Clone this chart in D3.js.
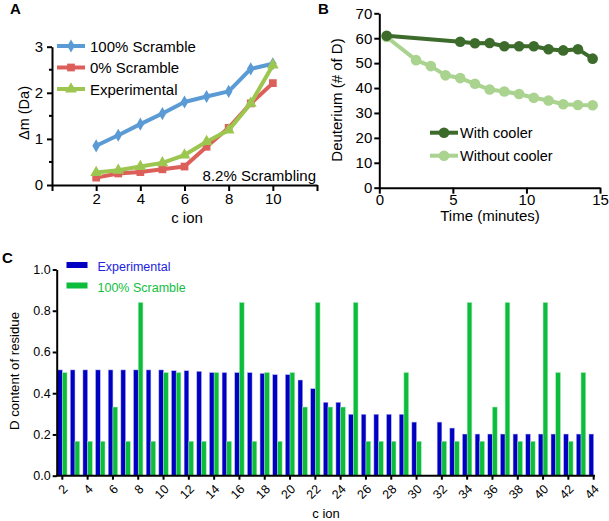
<!DOCTYPE html>
<html><head><meta charset="utf-8">
<script src="https://cdn.jsdelivr.net/npm/d3@7"></script>
<style>
body{margin:0;background:#fff}
text{font-family:"Liberation Sans",Arial,Helvetica,sans-serif;fill:#000}
</style>
</head><body><svg id="chart" width="609" height="521"></svg>
<script>
// ---------- Panel A data ----------
const ionsA = [2, 3, 4, 5, 6, 7, 8, 9, 10];
const scramble100A = [0.85, 1.08, 1.32, 1.55, 1.80, 1.92, 2.03, 2.52, 2.63];
const scramble0A   = [0.16, 0.25, 0.28, 0.34, 0.40, 0.83, 1.24, 1.77, 2.21];
const experimentalA= [0.27, 0.32, 0.40, 0.48, 0.65, 0.94, 1.19, 1.77, 2.60];
const ticksAx = [0, 2, 4, 6, 8, 10, 12];
const ticksAy = [0, 1, 2, 3];

// ---------- Panel B data ----------
const timesWith    = [0.5, 5.5, 6.5, 7.5, 8.5, 9.5, 10.5, 11.5, 12.5, 13.5, 14.5];
const withCooler   = [61, 58.6, 58.0, 58.1, 56.8, 56.8, 56.8, 55.6, 55.1, 55.6, 51.8];
const timesWithout = [0.5, 2.5, 3.5, 4.5, 5.5, 6.5, 7.5, 8.5, 9.5, 10.5, 11.5, 12.5, 13.5, 14.5];
const withoutCooler= [60.5, 51.2, 48.8, 45.1, 44.0, 41.7, 39.4, 38.6, 37.6, 36.1, 35.0, 33.5, 33.2, 33.1];
const ticksBx = [0, 5, 10, 15];
const ticksBy = [0, 10, 20, 30, 40, 50, 60, 70];

// ---------- Panel C data ----------
const ionsC = [2,3,4,5,6,7,8,9,10,11,12,13,14,15,16,17,18,19,20,21,22,23,24,25,26,27,28,29,30,31,32,33,34,35,36,37,38,39,40,41,42,43,44];
const experimentalC = [0.513,0.513,0.513,0.513,0.513,0.513,0.513,0.513,0.513,0.509,0.509,0.506,0.50,0.50,0.50,0.50,0.496,0.49,0.49,0.464,0.422,0.356,0.356,0.298,0.298,0.298,0.298,0.298,0.26,null,0.26,0.231,0.202,0.202,0.202,0.202,0.202,0.202,0.202,0.202,0.202,0.202,0.202];
const scramble100C  = [0.50,0.167,0.167,0.167,0.333,0.167,0.84,0.167,0.50,0.50,0.167,0.167,0.50,0.167,0.84,0.167,0.50,0.167,0.50,0.333,0.84,0.333,0.333,0.84,0.167,0.167,0.167,0.50,0.167,null,0.167,0.167,0.84,0.167,0.333,0.84,0.167,0.167,0.84,0.50,0.167,0.50,null];
const ticksCy = [0, 0.2, 0.4, 0.6, 0.8, 1.0];
const ticksCx = [2,4,6,8,10,12,14,16,18,20,22,24,26,28,30,32,34,36,38,40,42,44];

const svg = d3.select("#chart");

function styleAxis(g, w, fs){
  g.attr("font-family",null);
  g.select(".domain").attr("stroke","#000").attr("stroke-width",w);
  g.selectAll(".tick line").attr("stroke","#000").attr("stroke-width",w);
  g.selectAll(".tick text").attr("fill","#000").style("font-size",fs+"px");
}

// ================= Panel A =================
{
  const x = d3.scaleLinear().domain([0,12]).range([52,317]);
  const y = d3.scaleLinear().domain([0,3]).range([185,46.7]);
  const gx = svg.append("g").attr("transform","translate(0,185)")
    .call(d3.axisBottom(x).tickValues(ticksAx).tickSize(6).tickSizeOuter(0)
      .tickFormat(d => (d===0||d===12) ? "" : d));
  styleAxis(gx,2,15);
  gx.selectAll(".tick text").attr("y",8);
  const gy = svg.append("g").attr("transform","translate(52,0)")
    .call(d3.axisLeft(y).tickValues(ticksAy).tickFormat(d3.format("d")).tickSize(5).tickSizeOuter(0));
  styleAxis(gy,2,15);
  gy.selectAll(".tick text").attr("x",-9);
  // minor ticks
  svg.append("g").selectAll("line").data([0.5,1.5,2.5]).join("line")
    .attr("x1",49).attr("x2",52).attr("y1",d=>y(d)).attr("y2",d=>y(d))
    .attr("stroke","#000").attr("stroke-width",2);

  const series = [
    {name:"100% Scramble", vals:scramble100A, color:"#5b9bd5", sym:d3.symbolDiamond, size:50},
    {name:"0% Scramble",   vals:scramble0A,   color:"#dd5f5a", sym:d3.symbolSquare,  size:60},
    {name:"Experimental",  vals:experimentalA,color:"#9cc650", sym:d3.symbolTriangle,size:60}
  ];
  const line = d3.line().x((d,i)=>x(ionsA[i])).y(d=>y(d));
  series.forEach((s,k)=>{
    svg.append("path").attr("d",line(s.vals)).attr("fill","none")
      .attr("stroke",s.color).attr("stroke-width",4).attr("stroke-linejoin","round");
    svg.append("g").selectAll("path").data(s.vals).join("path")
      .attr("transform",(d,i)=>`translate(${x(ionsA[i])},${y(d)})`)
      .attr("d",d3.symbol(s.sym,s.size)).attr("fill",s.color);
    // legend
    const ly = 46 + k*21.5;
    svg.append("line").attr("x1",57).attr("x2",85).attr("y1",ly).attr("y2",ly)
      .attr("stroke",s.color).attr("stroke-width",4);
    svg.append("path").attr("transform",`translate(71,${ly})`)
      .attr("d",d3.symbol(s.sym,s.size)).attr("fill",s.color);
    svg.append("text").attr("x",90).attr("y",ly+5.5).attr("font-size",15).text(s.name);
  });
  svg.append("text").attr("x",316).attr("y",181).attr("text-anchor","end")
    .attr("font-size",15).text("8.2% Scrambling");
  svg.append("text").attr("x",187).attr("y",223).attr("text-anchor","middle")
    .attr("font-size",15).text("c ion");
  svg.append("text").attr("transform","translate(29,113) rotate(-90)")
    .attr("text-anchor","middle").attr("font-size",14.5).text("Δm (Da)");
  svg.append("text").attr("x",10).attr("y",14).attr("font-size",15)
    .attr("font-weight","bold").text("A");
}

// ================= Panel B =================
{
  const x = d3.scaleLinear().domain([0,15]).range([379.3,600]);
  const y = d3.scaleLinear().domain([0,70]).range([187.7,13.3]);
  const gx = svg.append("g").attr("transform","translate(0,187.7)")
    .call(d3.axisBottom(x).tickValues(ticksBx).tickSize(6).tickSizeOuter(0));
  styleAxis(gx,2,15);
  gx.selectAll(".tick text").attr("y",7);
  const gy = svg.append("g").attr("transform","translate(379.3,0)")
    .call(d3.axisLeft(y).tickValues(ticksBy).tickSize(5).tickSizeOuter(0));
  styleAxis(gy,2,15);
  gy.selectAll(".tick text").attr("x",-7);

  const series = [
    {name:"Without cooler", t:timesWithout, v:withoutCooler, color:"#a9d38f", ly:155.7},
    {name:"With cooler",    t:timesWith,    v:withCooler,    color:"#3c6b2c", ly:132.7}
  ];
  series.forEach(s=>{
    const line = d3.line().x((d,i)=>x(s.t[i])).y(d=>y(d));
    svg.append("path").attr("d",line(s.v)).attr("fill","none")
      .attr("stroke",s.color).attr("stroke-width",4).attr("stroke-linejoin","round");
    svg.append("g").selectAll("circle").data(s.v).join("circle")
      .attr("cx",(d,i)=>x(s.t[i])).attr("cy",d=>y(d)).attr("r",5.3).attr("fill",s.color);
    svg.append("line").attr("x1",430).attr("x2",458).attr("y1",s.ly).attr("y2",s.ly)
      .attr("stroke",s.color).attr("stroke-width",4);
    svg.append("circle").attr("cx",444).attr("cy",s.ly).attr("r",5.3).attr("fill",s.color);
    svg.append("text").attr("x",460).attr("y",s.ly+5.5).attr("font-size",14.5).text(s.name);
  });
  svg.append("text").attr("x",490).attr("y",221).attr("text-anchor","middle")
    .attr("font-size",15).text("Time (minutes)");
  svg.append("text").attr("transform","translate(342,100) rotate(-90)")
    .attr("text-anchor","middle").attr("font-size",15).text("Deuterium (# of D)");
  svg.append("text").attr("x",318).attr("y",14).attr("font-size",15)
    .attr("font-weight","bold").text("B");
}

// ================= Panel C =================
{
  const x = d3.scaleBand().domain(ionsC).range([56,600]).padding(0);
  const y = d3.scaleLinear().domain([0,1]).range([475.7,269.5]);
  const bw = 4.7;
  const cx = d => x(d) + x.bandwidth()/2;
  svg.append("g").selectAll("rect").data(ionsC.map((c,i)=>({c,v:experimentalC[i]})).filter(d=>d.v!=null))
    .join("rect").attr("x",d=>cx(d.c)-bw).attr("width",bw)
    .attr("y",d=>y(d.v)).attr("height",d=>y(0)-y(d.v))
    .attr("fill","#0000c2").attr("stroke","#b8b8f4").attr("stroke-width",0.5);
  svg.append("g").selectAll("rect").data(ionsC.map((c,i)=>({c,v:scramble100C[i]})).filter(d=>d.v!=null))
    .join("rect").attr("x",d=>cx(d.c)).attr("width",bw)
    .attr("y",d=>y(d.v)).attr("height",d=>y(0)-y(d.v))
    .attr("fill","#0cbd3c").attr("stroke","#a8e8b8").attr("stroke-width",0.5);

  const gy = svg.append("g").attr("transform","translate(56.7,0)")
    .call(d3.axisLeft(y).tickValues(ticksCy).tickFormat(d3.format(".1f")).tickSize(4).tickSizeOuter(0));
  styleAxis(gy,2,12.5);
  gy.selectAll(".tick text").attr("x",-6);
  // x axis
  const gx = svg.append("g").attr("transform","translate(0,475.7)");
  gx.append("line").attr("x1",56).attr("x2",595).attr("y1",0).attr("y2",0)
    .attr("stroke","#000").attr("stroke-width",2);
  gx.selectAll("line.t").data(ticksCx).join("line").attr("class","t")
    .attr("x1",d=>cx(d)).attr("x2",d=>cx(d)).attr("y1",0).attr("y2",4)
    .attr("stroke","#000").attr("stroke-width",2);
  gx.selectAll("text").data(ticksCx).join("text")
    .attr("transform",d=>`translate(${cx(d)+3},11) rotate(-45)`)
    .attr("text-anchor","end").attr("dy","0.35em").style("font-size","12.5px").text(d=>d);

  svg.append("text").attr("x",326).attr("y",518).attr("text-anchor","middle")
    .attr("font-size",13).text("c ion");
  svg.append("text").attr("transform","translate(19,371) rotate(-90)")
    .attr("text-anchor","middle").attr("font-size",13.2).text("D content of residue");
  svg.append("text").attr("x",2).attr("y",263).attr("font-size",15)
    .attr("font-weight","bold").text("C");
  // legend
  const leg = [{n:"Experimental",c:"#0000c2",t:"#2222e0",y:262},{n:"100% Scramble",c:"#0cbd3c",t:"#10c040",y:282.5}];
  leg.forEach(l=>{
    svg.append("rect").attr("x",66.5).attr("y",l.y).attr("width",21).attr("height",6).attr("fill",l.c);
    svg.append("text").attr("x",97.5).attr("y",l.y+9).attr("font-size",12.5)
      .style("fill",l.t).text(l.n);
  });
}
</script>
</body></html>
